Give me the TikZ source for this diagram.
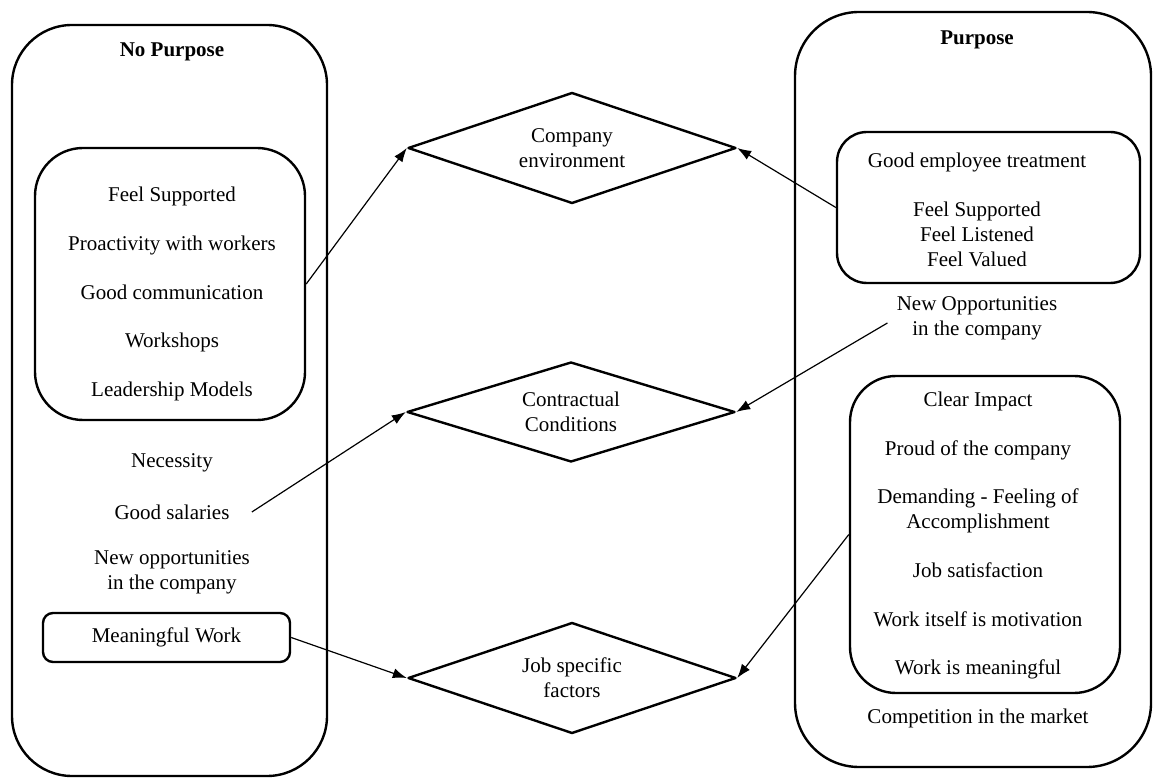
\documentclass[tikz,border=0pt]{standalone}
\usepackage{fontspec}
\setmainfont{Liberation Serif}
\usepackage{tikz}
\usetikzlibrary{arrows.meta,shapes.geometric}

\begin{document}
\begin{tikzpicture}[x=0.5pt,y=-0.5pt,>={Latex[length=7pt,width=5pt]},line join=round,
  font=\fontsize{10.5}{12.6}\selectfont,
  outerbox/.style={draw,line width=1.2pt,rounded corners=30pt},
  groupbox/.style={draw,line width=1.2pt,inner sep=0pt},
  factor/.style={diamond,draw,line width=1.2pt,inner sep=0pt,aspect=3,minimum width=164pt,align=center},
  head/.style={font=\fontsize{10.5}{12.6}\selectfont\bfseries},
  item/.style={align=center,inner sep=2pt},
  conn/.style={->,line width=0.6pt}]
  \useasboundingbox (0,0) rectangle (1154,779);
  % the two sides
  \draw[outerbox] (12,25) rectangle (327,776);
  \draw[outerbox,rounded corners=32pt] (795,12) rectangle (1151,767);
  \node[head] (nop) at (172,52) {No Purpose};
  \node[head] (pur) at (977,40) {Purpose};
  % no purpose side
  \node[groupbox,rounded corners=24pt,minimum width=135pt,minimum height=136pt] (supp) at (170,284) {};
  \node[item] (supptxt) at (172,294) {Feel Supported\\[11.7pt]Proactivity with workers\\[11.7pt]Good communication\\[11.7pt]Workshops\\[11.7pt]Leadership Models};
  \node[item] (nec) at (172,463) {Necessity};
  \node[item] (sal) at (172,512) {Good salaries};
  \node[item] (newl) at (172,572) {New opportunities\\in the company};
  \node[groupbox,rounded corners=5pt,minimum width=123.5pt,minimum height=24.5pt] (mw) at (166.5,637.5) {Meaningful Work};
  % factors
  \node[factor,minimum height=55.5pt] (env) at (572,148) {Company\\environment};
  \node[factor,minimum height=50pt] (cc) at (571,412) {Contractual\\Conditions};
  \node[factor,minimum height=55.5pt] (jsf) at (572,678) {Job specific\\factors};
  % purpose side
  \node[groupbox,rounded corners=15pt,minimum width=151.5pt,minimum height=75.5pt] (treat) at (988.5,207.5) {};
  \node[item] (treattxt) at (977,210) {Good employee treatment\\[11.7pt]Feel Supported\\Feel Listened\\Feel Valued};
  \node[item] (newr) at (977,318) {New Opportunities\\in the company};
  \node[groupbox,rounded corners=23pt,minimum width=135pt,minimum height=158.5pt] (motiv) at (985,534.5) {};
  \node[item] (motivtxt) at (978,535.5) {Clear Impact\\[11.7pt]Proud of the company\\[11.7pt]Demanding - Feeling of\\Accomplishment\\[11.7pt]Job satisfaction\\[11.7pt]Work itself is motivation\\[11.7pt]Work is meaningful};
  \node[item] (comp) at (978,718) {Competition in the market};
  % connectors
  \draw[conn] (supp.east) -- (env.west);
  \draw[conn] (treat.west) -- (env.east);
  \draw[conn] ([shift={(-5,5)}]newr.west) -- (cc.east);
  \draw[conn] ([xshift=9pt]sal.east) -- (cc.west);
  \draw[conn] (mw.east) -- (jsf.west);
  \draw[conn] (motiv.west) -- (jsf.east);
\end{tikzpicture}
\end{document}
